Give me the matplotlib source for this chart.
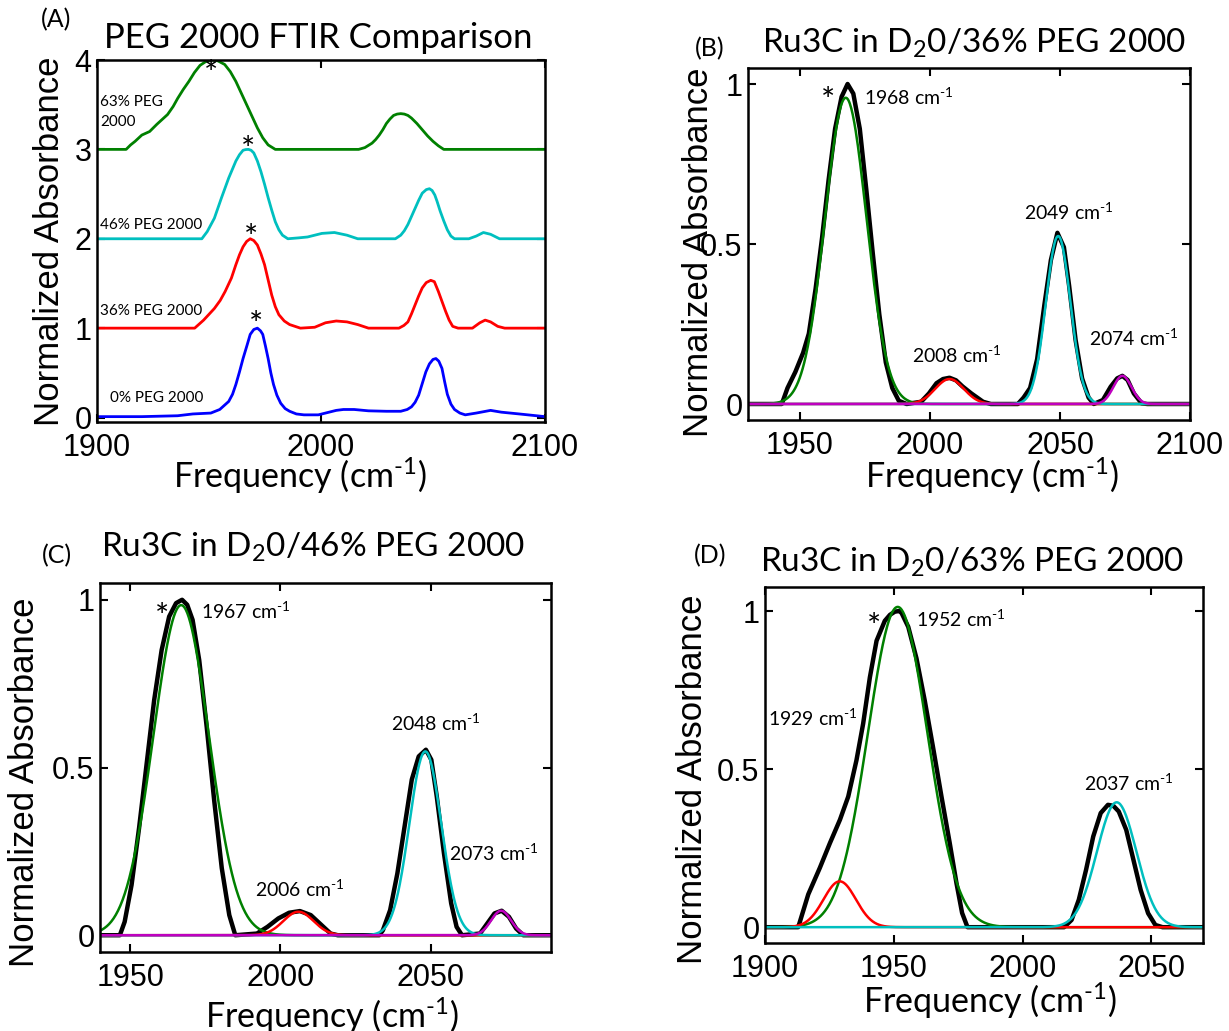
import numpy as np
import matplotlib.pyplot as plt

plt.rcParams['mathtext.fontset'] = 'custom'
plt.rcParams['mathtext.rm'] = 'Lato'
plt.rcParams['mathtext.it'] = 'Lato:italic'
plt.rcParams['mathtext.bf'] = 'Lato:bold'
plt.rcParams['mathtext.default'] = 'rm'

W, H = 1229, 1031
ARIAL = 'Liberation Sans'
CALIBRI = 'Lato'

GREEN = '#008000'
RED = '#ff0000'
CYAN = '#00bfbf'
MAGENTA = '#bf00bf'
BLUE = '#0000ff'

# ---------------- panel A: FTIR spectra, (freq, normalized absorbance) ----------------
spec_0 = [(1900, 0.01), (1920, 0.01), (1936, 0.02), (1942.8, 0.04), (1950.8, 0.05), (1954.8, 0.09),
          (1958.8, 0.18), (1960.5, 0.26), (1962, 0.37), (1963.6, 0.51), (1965.2, 0.66), (1967, 0.81),
          (1968.4, 0.93), (1970, 0.985), (1971.6, 1.0), (1973, 0.97), (1974, 0.93), (1975.2, 0.8),
          (1976.4, 0.66), (1977.6, 0.5), (1978.8, 0.37), (1980.3, 0.25), (1982, 0.16), (1984, 0.1),
          (1986, 0.07), (1989, 0.04), (1992.4, 0.03), (1998.8, 0.03), (2002, 0.05), (2006.8, 0.08),
          (2010, 0.09), (2014.8, 0.09), (2021.2, 0.075), (2029.2, 0.07), (2035.6, 0.07), (2038.5, 0.09),
          (2040.4, 0.12), (2042, 0.17), (2043.6, 0.25), (2045.2, 0.38), (2046.8, 0.51), (2048.4, 0.6),
          (2050, 0.65), (2051.3, 0.66), (2052.6, 0.63), (2054, 0.55), (2055.2, 0.4), (2056.4, 0.26),
          (2058, 0.15), (2059.6, 0.09), (2062, 0.05), (2064.4, 0.03), (2069.3, 0.05), (2075.7, 0.08),
          (2080.5, 0.06), (2088.5, 0.04), (2100, 0.01)]

spec_36 = [(1900, 0), (1943.6, 0), (1947.6, 0.09), (1952.4, 0.22), (1955, 0.31), (1957.2, 0.41),
           (1960, 0.56), (1962, 0.71), (1963.6, 0.82), (1965.2, 0.91), (1966.8, 0.97), (1968.4, 1.0),
           (1970, 0.98), (1971.6, 0.93), (1973.2, 0.83), (1974.8, 0.71), (1976.4, 0.54), (1978, 0.37),
           (1979.6, 0.24), (1981.2, 0.15), (1983.6, 0.08), (1986, 0.04), (1990.8, 0), (1997.2, 0.01),
           (2002, 0.06), (2006.8, 0.08), (2011.6, 0.07), (2016.4, 0.04), (2021.2, 0), (2034.8, 0),
           (2037, 0.03), (2038.8, 0.07), (2040.4, 0.16), (2042, 0.26), (2043.6, 0.36), (2045.2, 0.45),
           (2047, 0.51), (2049, 0.535), (2050.6, 0.52), (2052.4, 0.41), (2054, 0.3), (2055.6, 0.19),
           (2057.2, 0.09), (2058.8, 0.02), (2061.2, 0), (2067.6, 0), (2070.9, 0.06), (2073.3, 0.09),
           (2075.7, 0.07), (2078.9, 0.02), (2082, 0), (2100, 0)]

spec_46 = [(1900, 0), (1946.8, 0), (1949.2, 0.08), (1952.4, 0.23), (1955.6, 0.46), (1958.8, 0.68),
           (1962, 0.87), (1963.6, 0.94), (1965.2, 0.99), (1966.4, 0.998), (1967.6, 1.0), (1968.8, 0.99),
           (1970, 0.96), (1971.6, 0.87), (1973.2, 0.75), (1974.8, 0.61), (1976.4, 0.46), (1978, 0.32),
           (1979.6, 0.19), (1981.2, 0.1), (1982.8, 0.04), (1985.2, 0), (1990, 0.01), (1994, 0.02),
           (2000.4, 0.06), (2006, 0.07), (2011.6, 0.04), (2016.4, 0), (2033.2, 0), (2035.6, 0.04),
           (2037.2, 0.09), (2038.8, 0.16), (2040.4, 0.25), (2042, 0.34), (2043.6, 0.43), (2045.2, 0.51),
           (2047, 0.55), (2048.4, 0.56), (2049.6, 0.54), (2050.8, 0.49), (2051.8, 0.42), (2053.2, 0.31),
           (2054.8, 0.2), (2056.4, 0.1), (2058, 0.03), (2059.6, 0), (2066, 0), (2069.3, 0.03),
           (2072.5, 0.07), (2075.7, 0.05), (2079.7, 0), (2100, 0)]

spec_63 = [(1900, 0), (1913, 0), (1915, 0.05), (1917, 0.09), (1920, 0.16), (1923.5, 0.2),
           (1926.7, 0.28), (1931.5, 0.39), (1934, 0.48), (1936, 0.57), (1938.5, 0.67), (1941, 0.76),
           (1943.5, 0.86), (1946, 0.94), (1949, 0.99), (1951.5, 1.0), (1954, 0.99), (1957, 0.95),
           (1959.5, 0.87), (1962, 0.76), (1964.4, 0.63), (1966.8, 0.5), (1969.2, 0.37), (1971.6, 0.24),
           (1974, 0.13), (1976.4, 0.05), (1979.6, 0), (2016.8, 0), (2019.6, 0.02), (2022.8, 0.07),
           (2024.4, 0.11), (2026, 0.16), (2027.6, 0.22), (2029.2, 0.29), (2030.8, 0.34), (2032.4, 0.38),
           (2034, 0.395), (2035.6, 0.4), (2037.2, 0.395), (2038.8, 0.38), (2040.4, 0.35), (2042.8, 0.29),
           (2045.2, 0.22), (2047.6, 0.15), (2050, 0.09), (2052.4, 0.04), (2054.8, 0), (2100, 0)]

peg_spectra = [spec_0, spec_36, spec_46, spec_63]
peg_offsets = [0, 1, 2, 3]
peg_colors = [BLUE, RED, CYAN, GREEN]
peg_labels = ['0% PEG 2000', '36% PEG 2000', '46% PEG 2000', '63% PEG\n2000']
peg_label_x = [1906, 1901.5, 1901.5, 1901.5]
peg_label_y = [0.22, 0.19, 0.15, 0.42]
peg_star_x = [1971, 1968.9, 1967.3, 1951]
peg_star_y = [1.14, 1.11, 1.10, 0.95]

# ---------------- panels B-D: measured spectra (black) ----------------
spec_b = [(1930, 0), (1943, 0), (1945.2, 0.05), (1948.2, 0.1), (1951.2, 0.16), (1953.4, 0.22),
          (1956, 0.36), (1958.5, 0.52), (1961, 0.7), (1963.5, 0.86), (1966, 0.96), (1968.3, 1.0),
          (1970.5, 0.97), (1973, 0.86), (1975.5, 0.67), (1978, 0.47), (1980.5, 0.28), (1983, 0.13),
          (1985.5, 0.05), (1988, 0.01), (1991, 0), (1996.6, 0.007), (1999.6, 0.033), (2002.5, 0.065),
          (2005, 0.078), (2007.5, 0.082), (2010, 0.074), (2012.5, 0.055), (2015.9, 0.033),
          (2020.4, 0.007), (2023.4, 0), (2033.8, 0), (2036, 0.02), (2038.5, 0.05), (2041.2, 0.14),
          (2044, 0.31), (2046.5, 0.45), (2049, 0.535), (2051.5, 0.49), (2053.5, 0.37), (2056, 0.2),
          (2058.5, 0.08), (2061, 0.02), (2063, 0), (2066.5, 0.0125), (2069.5, 0.054), (2072, 0.08),
          (2074, 0.088), (2076, 0.075), (2078.4, 0.033), (2081.4, 0.002), (2083.6, 0), (2100, 0)]

spec_c = [(1940, 0), (1946.6, 0), (1948.2, 0.04), (1950.5, 0.15), (1953, 0.32), (1955.5, 0.51),
          (1958, 0.7), (1960.5, 0.85), (1963, 0.95), (1965.3, 0.99), (1967.3, 1.0), (1969, 0.985),
          (1970.8, 0.94), (1973, 0.82), (1975.5, 0.62), (1978, 0.4), (1980.5, 0.2), (1983, 0.06),
          (1985, 0), (1992.2, 0.005), (1995.7, 0.025), (1999.3, 0.05), (2002.9, 0.067),
          (2006.5, 0.072), (2010.1, 0.06), (2013.7, 0.03), (2016.7, 0.005), (2019.1, 0), (2032.9, 0),
          (2034.1, 0.015), (2036.5, 0.075), (2038.9, 0.184), (2041.3, 0.324), (2043.7, 0.464),
          (2046, 0.533), (2048.4, 0.553), (2050.2, 0.523), (2052, 0.414), (2054.4, 0.244),
          (2056.8, 0.095), (2058.6, 0.025), (2060.4, 0), (2066.4, 0.005), (2068.8, 0.035),
          (2071.2, 0.065), (2073.6, 0.073), (2076, 0.055), (2078.4, 0.02), (2080.8, 0), (2090, 0)]

spec_d = [(1900, 0), (1912.9, 0), (1916.8, 0.104), (1921.3, 0.188), (1925.2, 0.266), (1929.1, 0.34),
          (1932.3, 0.413), (1935.5, 0.528), (1938.1, 0.644), (1940.7, 0.79), (1943.3, 0.906),
          (1946.5, 0.969), (1948.5, 0.988), (1950.4, 0.998), (1952, 1.0), (1953, 0.994), (1955.6, 0.95),
          (1958.8, 0.85), (1962, 0.717), (1965.2, 0.57), (1968.5, 0.413), (1971.7, 0.266),
          (1974.3, 0.14), (1976.5, 0.045), (1978.6, 0), (2016.1, 0), (2019, 0.023), (2021.8, 0.087),
          (2024.6, 0.181), (2027.4, 0.287), (2030.3, 0.361), (2033.1, 0.387), (2035.2, 0.384),
          (2037.3, 0.366), (2040.2, 0.308), (2043, 0.213), (2045.8, 0.118), (2048.7, 0.044),
          (2051.5, 0.007), (2054.3, 0), (2070, 0)]

# fitted gaussian bands: center (cm-1), peak height, FWHM (cm-1)
fit_center_b = [1967.6, 2007.5, 2049.3, 2074]
fit_height_b = [0.957, 0.078, 0.525, 0.088]
fit_fwhm_b = [18.8, 13, 11.1, 8.2]
fit_color_b = [GREEN, RED, CYAN, MAGENTA]

fit_center_c = [1967, 2006, 2048.2, 2073.4]
fit_height_c = [0.984, 0.07, 0.548, 0.073]
fit_fwhm_c = [21.7, 11.8, 12.5, 7.8]
fit_color_c = [GREEN, RED, CYAN, MAGENTA]

fit_center_d = [1951.5, 1929, 2036.5]
fit_height_d = [1.013, 0.145, 0.395]
fit_fwhm_d = [27.2, 14.8, 18]
fit_color_d = [GREEN, RED, CYAN]

# peak annotations: label, x, y
ann_b = [('1968', 1974.6, 0.96), ('2008', 1992.9, 0.153), ('2049', 2036, 0.598), ('2074', 2061.3, 0.205)]
ann_c = [('1967', 1973.6, 0.967), ('2006', 1991.6, 0.137), ('2048', 2036.8, 0.631), ('2073', 2056.2, 0.244)]
ann_d = [('1952', 1958.6, 0.975), ('1929', 1901.1, 0.661), ('2037', 2023.9, 0.456)]
star_b = (1960.9, 0.976)
star_c = (1960.8, 0.976)
star_d = (1942.3, 0.978)

SUP = '$^{\u2010' + '1}$'


def rect(left, top, right, bottom):
    return [left / W, 1 - bottom / H, (right - left) / W, (bottom - top) / H]


def style_axes(ax, xticks, yticks, ylabels):
    ax.set_xticks(xticks)
    ax.set_yticks(yticks)
    ax.set_yticklabels(ylabels)
    ax.tick_params(direction='in', top=True, right=True, length=6, width=1.5,
                   labelsize=22, pad=8)
    ax.tick_params(axis='y', pad=4)
    for lab in ax.get_xticklabels() + ax.get_yticklabels():
        lab.set_family(ARIAL)
    for sp in ax.spines.values():
        sp.set_linewidth(1.8)


def star(ax, x, y):
    # glyph centre placed on (x, y)
    ax.annotate('*', (x, y), xytext=(0, -14), textcoords='offset points',
                family=CALIBRI, fontsize=24, ha='center', va='baseline')


def fig_text(x, y, s, **kw):
    fig.text(x / W, 1 - y / H, s, **kw)


fig = plt.figure(figsize=(W / 100, H / 100), dpi=100)

# ---- A ----
axA = fig.add_axes(rect(97, 60, 545, 422))
for spec, off, col in zip(peg_spectra, peg_offsets, peg_colors):
    f, a = zip(*spec)
    axA.plot(f, np.array(a) + off, color=col, lw=2)
for lab, x, y, off in zip(peg_labels, peg_label_x, peg_label_y, peg_offsets):
    axA.text(x, y + off, lab, family=CALIBRI, fontsize=11, ha='left', va='center',
             linespacing=1.5)
for x, y, off in zip(peg_star_x, peg_star_y, peg_offsets):
    star(axA, x, y + off)
axA.set_xlim(1900, 2100)
axA.set_ylim(-0.05, 4.0)
style_axes(axA, [1900, 2000, 2100], [0, 1, 2, 3, 4], ['0', '1', '2', '3', '4'])


def fit_panel(ax, spec, centers, heights, fwhms, colors, xlim):
    f, a = zip(*spec)
    ax.plot(f, a, color='black', lw=3.2, solid_joinstyle='round')
    grid = np.linspace(xlim[0], xlim[1], 600)
    for c, h, w, col in zip(centers, heights, fwhms, colors):
        ax.plot(grid, h * np.exp(-4 * np.log(2) * (grid - c) ** 2 / w ** 2), color=col, lw=1.8)
    ax.set_xlim(*xlim)


def annotate(ax, ann, st):
    star(ax, *st)
    for num, x, y in ann:
        ax.text(x, y, num + ' cm' + SUP, family=CALIBRI, fontsize=14, ha='left', va='center')


# ---- B ----
axB = fig.add_axes(rect(748, 68, 1190, 420))
fit_panel(axB, spec_b, fit_center_b, fit_height_b, fit_fwhm_b, fit_color_b, (1930, 2100))
annotate(axB, ann_b, star_b)
axB.set_ylim(-0.05, 1.05)
style_axes(axB, [1950, 2000, 2050, 2100], [0, 0.5, 1], ['0', '0.5', '1'])

# ---- C ----
axC = fig.add_axes(rect(100, 583, 551, 952))
fit_panel(axC, spec_c, fit_center_c, fit_height_c, fit_fwhm_c, fit_color_c, (1940, 2090))
annotate(axC, ann_c, star_c)
axC.set_ylim(-0.05, 1.05)
style_axes(axC, [1950, 2000, 2050], [0, 0.5, 1], ['0', '0.5', '1'])

# ---- D ----
axD = fig.add_axes(rect(765, 587, 1203, 943))
fit_panel(axD, spec_d, fit_center_d, fit_height_d, fit_fwhm_d, fit_color_d, (1900, 2070))
annotate(axD, ann_d, star_d)
axD.set_ylim(-0.05, 1.076)
style_axes(axD, [1900, 1950, 2000, 2050], [0, 0.5, 1], ['0', '0.5', '1'])

# ---- titles, labels ----
titles = ['PEG 2000 FTIR Comparison', 'Ru3C in D$_2$0/36% PEG 2000',
          'Ru3C in D$_2$0/46% PEG 2000', 'Ru3C in D$_2$0/63% PEG 2000']
title_size = [25, 24, 24, 24]
title_pos = [(318, 48), (974, 53), (313, 557), (972, 572)]
for t, s, (x, y) in zip(titles, title_size, title_pos):
    fig_text(x, y, t, family=CALIBRI, fontsize=s, ha='center', va='baseline')

letters = ['(A)', '(B)', '(C)', '(D)']
letter_pos = [(56, 20), (710, 49), (57, 556), (710, 556)]
for t, (x, y) in zip(letters, letter_pos):
    fig_text(x, y, t, family=CALIBRI, fontsize=18, ha='center', va='center')

ylab_pos = [(50, 241), (698, 252), (25, 782), (693, 779)]
for x, y in ylab_pos:
    fig_text(x, y, 'Normalized Absorbance', family=ARIAL, fontsize=25, rotation=90,
             ha='center', va='center')

xlab_pos = [(300, 476), (992, 476), (332, 1016), (990, 1001)]
for x, y in xlab_pos:
    fig_text(x, y, 'Frequency (cm' + SUP + ')', family=CALIBRI, fontsize=24.5,
             ha='center', va='center')

fig.savefig('out.png', dpi=100)
